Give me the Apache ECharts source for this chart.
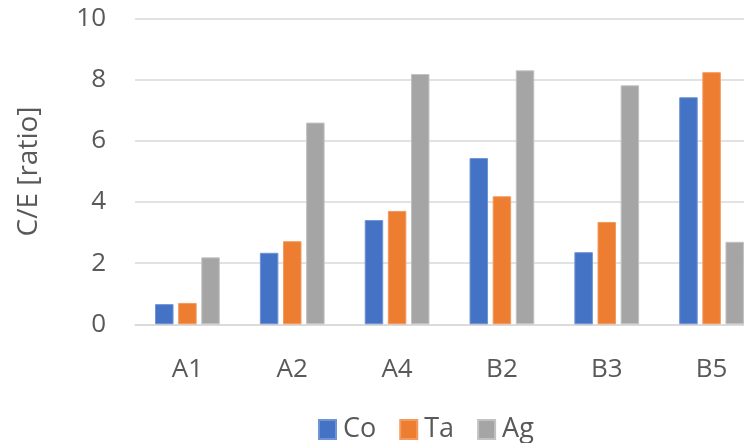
<!DOCTYPE html>
<html>
<head>
<meta charset="utf-8">
<script src="https://cdn.jsdelivr.net/npm/echarts@6/dist/echarts.min.js"></script>
<style>
  html, body { margin: 0; padding: 0; background: #ffffff; }
  #chart { width: 744px; height: 443px; }
</style>
</head>
<body>
<div id="chart"></div>
<script>
// Sample groups along the x axis
const categories = ['A1', 'A2', 'A4', 'B2', 'B3', 'B5'];

// C/E ratio per element
const coValues = [0.66, 2.34, 3.41, 5.44, 2.36, 7.43];
const taValues = [0.70, 2.72, 3.71, 4.19, 3.35, 8.25];
const agValues = [2.19, 6.60, 8.19, 8.31, 7.82, 2.70];

// Y axis range
const yMin = 0;
const yMax = 10;
const yStep = 2;

const font = '"Open Sans", "Noto Sans", sans-serif';
const textColor = '#595959';
const gridColor = '#d9d9d9';

function barSeries(name, data, color, edge) {
  return {
    name: name,
    type: 'bar',
    data: data,
    barWidth: 18.5,
    barGap: '25%',
    itemStyle: { color: color, borderColor: edge, borderWidth: 1 },
    emphasis: { disabled: true }
  };
}

const chart = echarts.init(document.getElementById('chart'), null, { renderer: 'canvas' });

chart.setOption({
  animation: false,
  backgroundColor: '#ffffff',
  textStyle: { fontFamily: font },
  // the plot runs past the right edge, so the last group is clipped
  grid: { left: 135, top: 18.7, width: 629, height: 305.6, containLabel: false, outerBoundsMode: 'none' },
  legend: {
    left: 318,
    top: 416,
    padding: 0,
    icon: 'rect',
    itemWidth: 17,
    itemHeight: 19,
    itemGap: 23,
    textStyle: { color: textColor, fontSize: 27, fontFamily: font, lineHeight: 27, padding: [0, 0, 0, 2] },
    data: ['Co', 'Ta', 'Ag']
  },
  xAxis: {
    type: 'category',
    data: categories,
    axisLine: { show: true, lineStyle: { color: gridColor, width: 1.5 } },
    axisTick: { show: false },
    axisLabel: { color: textColor, fontSize: 26, fontFamily: font, lineHeight: 26, margin: 32 },
    splitLine: { show: false }
  },
  yAxis: {
    type: 'value',
    min: yMin,
    max: yMax,
    interval: yStep,
    name: 'C/E [ratio]',
    nameLocation: 'middle',
    nameGap: 92,
    nameTextStyle: { color: textColor, fontSize: 28, fontFamily: font },
    axisLine: { show: false },
    axisTick: { show: false },
    axisLabel: { color: textColor, fontSize: 26, fontFamily: font, margin: 29 },
    splitLine: { show: true, lineStyle: { color: gridColor, width: 1.5 } }
  },
  series: [
    barSeries('Co', coValues, '#4472c4', '#6f93d4'),
    barSeries('Ta', taValues, '#ed7d31', '#f39a5f'),
    barSeries('Ag', agValues, '#a5a5a5', '#c2c2c2')
  ]
});
</script>
</body>
</html>
